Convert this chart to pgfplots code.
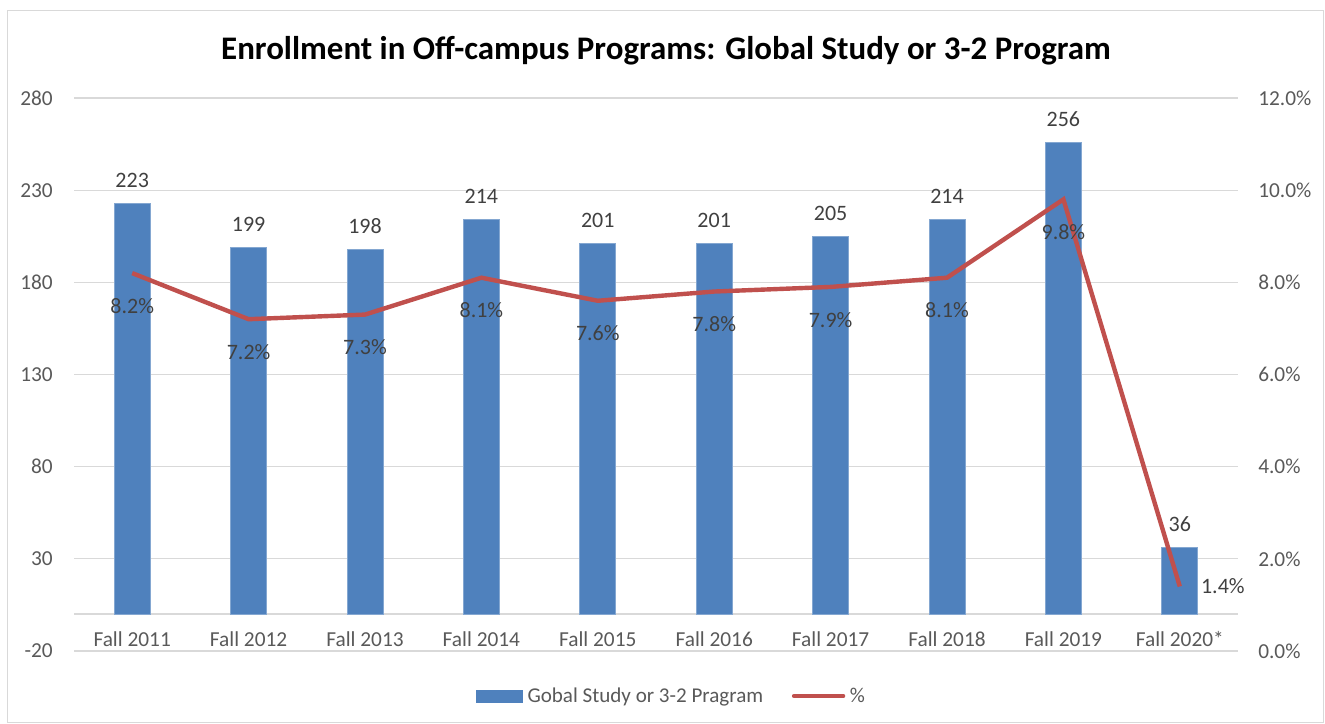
\documentclass[border=0pt]{standalone}
\usepackage{pgfplots}
\pgfplotsset{compat=1.18}
\usepackage{fontspec}
\setmainfont{Carlito}
\definecolor{barblue}{HTML}{4F81BD}
\definecolor{linered}{HTML}{C0504D}
\definecolor{ticktext}{HTML}{595959}
\definecolor{labeltext}{HTML}{404040}
\definecolor{gridgray}{HTML}{D9D9D9}
\pgfplotsset{/pgf/number format/assume math mode=true}
\begin{document}
\begin{tikzpicture}
\path[use as bounding box] (0,0) rectangle (993.75pt,543pt);
\draw[gridgray, line width=0.75pt] (5.25pt,0.75pt) rectangle (992.25pt,534.75pt);
\node[font=\fontsize{24.7}{29}\selectfont\bfseries, text=black] at (499.5pt,505pt) {Enrollment in Off-campus Programs: Global Study or 3-2 Program};
\begin{axis}[
  at={(55.5pt,54.75pt)}, anchor=south west,
  scale only axis, width=873pt, height=414.75pt,
  xmin=-0.5, xmax=9.5, ymin=-20, ymax=280,
  ytick={-20,30,80,130,180,230,280},
  xtick={0,...,9},
  xticklabels={Fall 2011,Fall 2012,Fall 2013,Fall 2014,Fall 2015,Fall 2016,Fall 2017,Fall 2018,Fall 2019,Fall 2020*},
  axis line style={draw=none},
  major tick length=0pt,
  ymajorgrids, grid style={gridgray, line width=0.9pt},
  extra y ticks={0}, extra y tick labels={},
  extra y tick style={grid style={gridgray!100!gray, line width=1.1pt}},
  tick label style={font=\fontsize{16}{19}\selectfont, text=ticktext},
  yticklabel style={inner sep=0pt, xshift=-15.75pt},
  xticklabel style={anchor=base, inner sep=0pt, yshift=3pt},
  ybar, bar width=27pt,
  nodes near coords,
  every node near coord/.append style={font=\fontsize{16.5}{19}\selectfont, text=labeltext, anchor=base, inner sep=0pt, yshift=12pt},
  clip=false,
]
\addplot[fill=barblue, draw=barblue!70!white, line width=0.5pt] coordinates {
(0,223) (1,199) (2,198) (3,214) (4,201) (5,201) (6,205) (7,214) (8,256) (9,36)};
\end{axis}
\begin{axis}[
  at={(55.5pt,54.75pt)}, anchor=south west,
  scale only axis, width=873pt, height=414.75pt,
  xmin=-0.5, xmax=9.5, ymin=0, ymax=12,
  axis x line=none,
  axis y line*=right,
  axis line style={draw=none},
  major tick length=0pt,
  ytick={0,2,...,12},
  yticklabel={\pgfmathprintnumber[fixed,fixed zerofill,precision=1]{\tick}\%},
  tick label style={font=\fontsize{16}{19}\selectfont, text=ticktext},
  yticklabel style={inner sep=0pt, xshift=15pt, anchor=west},
  clip=false,
  legend columns=2,
  legend style={at={(0.5146,-0.0814)}, anchor=center, draw=none, fill=none,
    font=\fontsize{15.8}{19}\selectfont, text=ticktext,
    nodes={inner xsep=3.5pt},
    /tikz/every even column/.append style={column sep=18pt}},
  legend cell align=left,
]
\addlegendimage{legend image code/.code={\fill[barblue] (0pt,-4.5pt) rectangle (34.5pt,4.5pt);}}
\addlegendentry{Gobal Study or 3-2 Pragram}
\addplot[linered, line width=3.3pt, mark=none,
  legend image code/.code={\draw[linered, line width=3.3pt, line cap=round] (0pt,0pt)--(36.75pt,0pt);}]
  coordinates {(0,8.2) (1,7.2) (2,7.3) (3,8.1) (4,7.6) (5,7.8) (6,7.9) (7,8.1) (8,9.8) (9,1.4)};
\addlegendentry{\%}
\addplot[draw=none, mark=none, forget plot,
  nodes near coords={\pgfmathprintnumber[fixed,fixed zerofill,precision=1]{\pgfplotspointmeta}\%},
  every node near coord/.append style={font=\fontsize{16.5}{19}\selectfont, text=labeltext, anchor=center, yshift=-24.5pt}]
  coordinates {(0,8.2) (1,7.2) (2,7.3) (3,8.1) (4,7.6) (5,7.8) (6,7.9) (7,8.1) (8,9.8)};
\addplot[draw=none, mark=none, forget plot,
  nodes near coords={\pgfmathprintnumber[fixed,fixed zerofill,precision=1]{\pgfplotspointmeta}\%},
  every node near coord/.append style={font=\fontsize{16.5}{19}\selectfont, text=labeltext, anchor=west, inner sep=0pt, xshift=15.75pt}]
  coordinates {(9,1.4)};
\end{axis}
\end{tikzpicture}
\end{document}
